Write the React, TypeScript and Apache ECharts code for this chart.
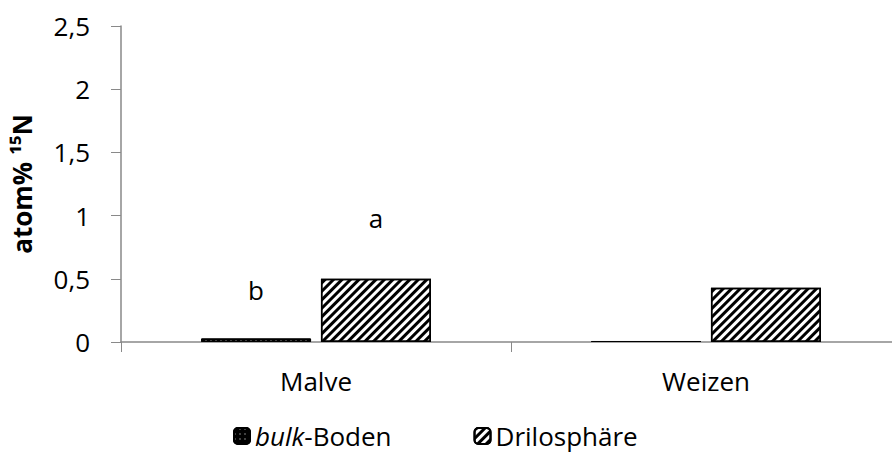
import React, { useEffect, useRef } from "react";
import * as echarts from "echarts";

const categories = ["Malve", "Weizen"];
const bulkBoden = [0.028, 0.008];
const drilosphaere = [0.5, 0.43];
const yTicks = { min: 0, max: 2.5, interval: 0.5 };
const annotations = [
  { series: 0, category: "Malve", value: 0.41, text: "b" },
  { series: 1, category: "Malve", value: 0.98, text: "a" },
];

const FONT = "Open Sans";
const FS = 26;

export default function App() {
  const ref = useRef<HTMLDivElement>(null);
  useEffect(() => {
    if (!ref.current) return;
    const chart = echarts.init(ref.current, null, { renderer: "svg" });
    const mk = (si: number) => ({
      symbol: "rect",
      symbolSize: 0,
      silent: true,
      label: {
        show: true,
        position: "inside",
        formatter: (p: any) => p.name,
        color: "#000",
        fontFamily: FONT,
        fontSize: FS,
      },
      data: annotations
        .filter((a) => a.series === si)
        .map((a) => ({ name: a.text, coord: [a.category, a.value] })),
    });
    chart.setOption({
      animation: false,
      backgroundColor: "#fff",
      grid: { left: 121, top: 26, bottom: 117, right: 0, containLabel: false },
      legend: {
        top: 418,
        left: 228,
        itemGap: 82,
        itemWidth: 16,
        itemHeight: 16,
        textStyle: {
          fontFamily: FONT,
          fontSize: FS,
          color: "#000",
          rich: {
            i: { fontStyle: "italic", fontFamily: FONT, fontSize: FS, color: "#000" },
          },
        },
        formatter: (name: string) =>
          name === "bulk-Boden" ? "{i|bulk}-Boden" : name,
        data: ["bulk-Boden", "Drilosphäre"],
      },
      xAxis: {
        type: "category",
        data: categories,
        axisLine: { lineStyle: { color: "#898989", width: 1.5 } },
        axisTick: { show: true, length: 10, lineStyle: { color: "#898989" } },
        axisLabel: { fontFamily: FONT, fontSize: FS, color: "#000", margin: 26 },
      },
      yAxis: {
        type: "value",
        min: yTicks.min,
        max: yTicks.max,
        interval: yTicks.interval,
        name: "atom% ¹⁵N",
        nameLocation: "middle",
        nameGap: 86,
        nameRotate: 90,
        nameTextStyle: { fontFamily: FONT, fontSize: FS, fontWeight: "bold", color: "#000" },
        axisLine: { show: true, lineStyle: { color: "#898989", width: 1.5 } },
        axisTick: { show: true, length: 10, lineStyle: { color: "#898989" } },
        splitLine: { show: false },
        axisLabel: {
          fontFamily: FONT,
          fontSize: FS,
          color: "#000",
          margin: 31,
          formatter: (v: number) => String(v).replace(".", ","),
        },
      },
      series: [
        {
          name: "bulk-Boden",
          type: "bar",
          data: bulkBoden,
          barWidth: 110,
          barGap: "9%",
          itemStyle: {
            color: "#000",
            borderColor: "#000",
            borderWidth: 1,
            decal: {
              symbol: "rect",
              color: "#fff",
              symbolSize: 0.5,
              dashArrayX: [[2, 3]],
              dashArrayY: [2, 3],
            },
          },
          markPoint: mk(0),
        },
        {
          name: "Drilosphäre",
          type: "bar",
          data: drilosphaere,
          barWidth: 110,
          barGap: "9%",
          itemStyle: {
            color: "#fff",
            borderColor: "#000",
            borderWidth: 1.5,
            decal: {
              symbol: "rect",
              color: "#000",
              dashArrayX: [1, 0],
              dashArrayY: [2.5, 3],
              rotation: -Math.PI / 4,
            },
          },
          markPoint: mk(1),
        },
      ],
    });
    return () => chart.dispose();
  }, []);
  return (
    <div
      style={{
        position: "absolute",
        left: 0,
        top: 0,
        width: 892,
        height: 459,
        overflow: "hidden",
      }}
    >
      <div ref={ref} style={{ width: 901, height: 459 }} />
    </div>
  );
}
